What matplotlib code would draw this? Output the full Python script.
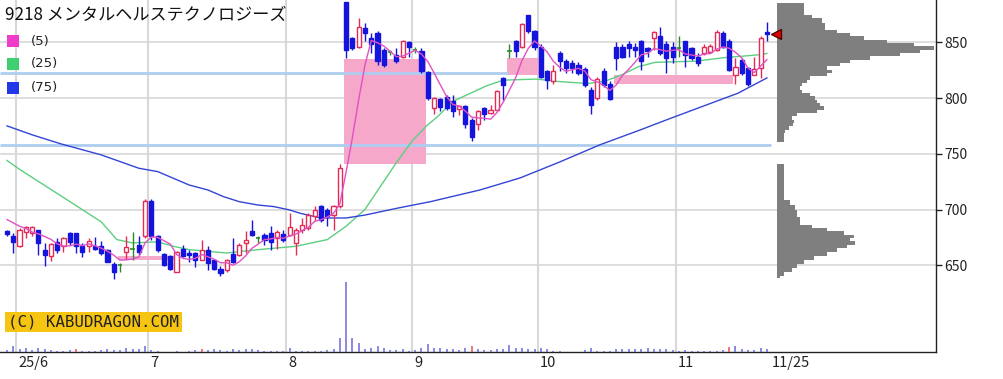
import matplotlib
matplotlib.use("Agg")
import matplotlib.pyplot as plt
from matplotlib.patches import Rectangle
import numpy as np
import pandas as pd

plt.rcParams['font.family'] = ['Noto Sans CJK JP', 'DejaVu Sans']

title = "9218 メンタルヘルステクノロジーズ"

# 日足 (5/29 .. 11/25)
opens = [681, 676, 667, 680, 679, 682, 664, 658, 671, 667, 679, 679, 667, 667, 667, 667, 664, 651, 650, 662,
         665, 668, 676, 708, 676, 660, 658, 644, 665, 661, 661, 655, 664, 655, 647, 646, 660, 659, 670, 681,
         674, 677, 679, 674, 678, 677, 670, 682, 683, 694, 703, 700, 695, 703, 886, 854, 846, 863, 854, 858,
         843, 841, 839, 837, 850, 843, 842, 823, 791, 799, 801, 797, 790, 793, 780, 777, 791, 787, 789, 818,
         842, 851, 846, 874, 860, 846, 824, 815, 840, 833, 831, 830, 826, 807, 800, 824, 813, 846, 846, 848,
         846, 851, 845, 854, 856, 848, 846, 845, 851, 845, 837, 840, 841, 843, 858, 851, 821, 834, 827, 821,
         827, 859]
highs = [682, 679, 683, 685, 685, 682, 670, 670, 674, 675, 680, 679, 670, 674, 675, 672, 665, 653, 652, 676,
         680, 676, 709, 709, 677, 661, 659, 663, 668, 664, 662, 673, 667, 656, 649, 656, 674, 670, 681, 691,
         676, 679, 685, 682, 682, 697, 683, 692, 697, 703, 704, 701, 704, 741, 886, 855, 872, 867, 858, 860,
         845, 843, 845, 852, 851, 846, 845, 824, 801, 800, 803, 803, 794, 794, 782, 789, 792, 794, 807, 819,
         848, 852, 867, 874, 861, 848, 825, 830, 842, 835, 834, 832, 828, 810, 819, 827, 815, 850, 848, 851,
         849, 852, 846, 860, 864, 851, 850, 856, 851, 846, 840, 848, 848, 861, 860, 853, 836, 836, 828, 837,
         856, 868]
lows = [676, 661, 666, 674, 676, 659, 649, 654, 661, 662, 668, 661, 657, 662, 664, 659, 653, 638, 644, 656,
        655, 659, 674, 673, 662, 649, 646, 644, 657, 653, 648, 655, 646, 646, 640, 644, 652, 658, 661, 676,
        670, 668, 664, 665, 671, 676, 659, 679, 682, 691, 689, 685, 682, 701, 836, 843, 845, 851, 840, 830,
        828, 839, 831, 836, 837, 840, 822, 798, 786, 788, 789, 783, 785, 773, 761, 771, 780, 786, 788, 798,
        836, 837, 845, 858, 843, 818, 808, 813, 824, 822, 822, 821, 810, 786, 798, 810, 798, 825, 836, 837,
        837, 825, 837, 843, 839, 822, 831, 837, 828, 834, 829, 839, 840, 842, 845, 824, 813, 821, 811, 821,
        818, 851]
closes = [678, 671, 682, 684, 684, 670, 659, 669, 664, 674, 671, 667, 662, 672, 665, 661, 653, 644, 650, 666,
          665, 662, 708, 676, 664, 650, 647, 662, 658, 659, 655, 664, 652, 647, 643, 655, 653, 668, 673, 677,
          674, 673, 671, 680, 673, 684, 682, 686, 695, 700, 691, 694, 703, 737, 843, 845, 864, 858, 848, 833,
          830, 841, 833, 851, 846, 843, 824, 800, 800, 792, 791, 788, 793, 777, 765, 788, 786, 789, 806, 812,
          842, 842, 866, 860, 846, 819, 816, 824, 833, 827, 827, 822, 812, 794, 817, 812, 799, 836, 837, 845,
          843, 833, 842, 859, 840, 836, 837, 845, 839, 836, 831, 846, 847, 859, 846, 825, 828, 822, 813, 826,
          854, 857]
volume = [17, 57, 27, 40, 17, 43, 30, 17, 13, 7, 17, 30, 13, 13, 7, 17, 27, 17, 17, 43,
          33, 30, 60, 17, 10, 3, 3, 13, 3, 13, 17, 30, 17, 30, 17, 10, 30, 17, 30, 30,
          17, 13, 13, 13, 13, 43, 13, 7, 10, 7, 13, 23, 33, 137, 700, 140, 90, 30, 40, 60,
          43, 17, 17, 30, 13, 17, 40, 77, 43, 40, 30, 30, 17, 43, 60, 30, 17, 17, 30, 27,
          73, 43, 40, 33, 30, 40, 27, 13, 10, 3, 3, 3, 17, 40, 13, 7, 13, 27, 30, 27,
          27, 30, 43, 30, 27, 30, 17, 13, 17, 13, 7, 13, 13, 13, 17, 50, 60, 30, 23, 17,
          43, 33]
vol_red = [11, 31, 74, 115]

# 移動平均 (チャートから読み取り)
ma5_head = [691, 688, 685, 683]
ma25_x = [0, 2, 7, 15, 17.5, 20, 24, 26.5, 29, 35, 40, 46, 51, 54, 57, 59.5, 62, 64.6, 67, 68.5, 71,
          73.7, 76.4, 79, 84.4, 87.3, 92.5, 95.2, 98, 100.5, 103.2, 109.6, 113.9, 120.2, 121]
ma25 = [744, 736, 718, 689, 673, 670, 671, 667, 664, 661, 664, 667, 673, 685, 700, 721, 742, 762, 776, 783, 797,
        804, 811, 816, 817, 815, 813, 815, 821, 828, 832, 833, 836, 839, 840]
ma75_x = [0, 4, 8.5, 15, 21, 24, 26.5, 29, 32, 34.5, 37, 40, 42.5, 45, 46.7, 50, 54, 57, 62, 67.4,
          75.3, 81.7, 88, 94.4, 100.8, 105.3, 111, 116.4, 121]
ma75 = [775, 767, 759, 749, 737, 734, 728, 722, 717.5, 711.5, 707, 704, 702.6, 699.6, 696.6, 692.4, 692.4, 695,
        701, 707, 717.5, 728.3, 742.6, 758, 771.3, 781, 793, 804.3, 818]

# 窓 (開始, 終了, 下限, 上限)
gaps = [(18, 27, 655, 658), (54, 67, 741, 835), (80, 85, 821, 836), (97, 116, 813, 821)]
hlines = [(822, 80), (758, 122)]

month_starts = [2, 23, 45, 65, 85, 107]
month_labels = ['25/6', '7', '8', '9', '10', '11']
last_label = '11/25'

# 価格帯別出来高
prof_hi_edges = [885.5, 874.5, 871.5, 867.3, 861, 858.3, 855.7, 852, 849.4, 846.7, 843.1, 840.4, 837.7, 834.1,
                 831.4, 828.7, 825.2, 822.5, 819.8, 816.2, 813.5, 810.8, 807.2, 804.5, 801.8, 798.3, 795.6,
                 792.9, 789.3, 786.6, 783.9, 780.3, 777.6, 774.9, 771.3, 768.7, 765.1, 760.9]
prof_hi_vol = [26.7, 35, 45, 48, 60, 73, 86.7, 110, 136.7, 156.7, 143, 123, 93, 73, 63, 50, 55, 50, 33, 30,
               25, 23, 25, 33, 38, 40, 43, 46.7, 40, 20, 15, 16.7, 16, 11.7, 8.3, 6.7, 6.7]
prof_lo_edges = [740.9, 708.6, 704.1, 699.6, 693.3, 686.1, 683.5, 680.8, 677.2, 674.5, 671.8, 668.2, 665.5,
                 661.9, 658.3, 654.7, 651.1, 647.5, 643.9, 640.4, 638.3]
prof_lo_vol = [7.3, 13, 18, 20, 23, 35, 50, 66.7, 76.7, 73, 78, 70, 60, 50, 37, 26.7, 20, 15, 6.7, 3.3]

W, H = 1004, 379
fig = plt.figure(figsize=(W / 100, H / 100), dpi=100)
fig.patch.set_facecolor('white')
pos = [0, 27 / H, 936 / W, 352 / H]
ax = fig.add_axes(pos)
ax.set_xlim(-1.11, 147.93)
ax.set_ylim(572.2, 887.9)
for s in ['left', 'top']:
    ax.spines[s].set_visible(False)
for s in ['right', 'bottom']:
    ax.spines[s].set_color('#222222')
    ax.spines[s].set_linewidth(1.0)

yt = [650, 700, 750, 800, 850]
ax.yaxis.tick_right()
ax.set_yticks(yt)
ax.tick_params(axis='y', length=4, width=1, labelsize=10, pad=2, colors='#222222')
for v in yt:
    ax.axhline(v, color='#d8d8d8', lw=1.2, zorder=0)
for m in month_starts:
    ax.axvline(m - 0.5, color='#d8d8d8', lw=1.5, zorder=0)

ax.set_xticks([m - 0.2 for m in month_starts] + [121.8], month_labels + [last_label])
ax.tick_params(axis='x', length=0, labelsize=10.5, pad=3, colors='#222222')
for lab in ax.get_xticklabels():
    lab.set_ha('left')

# 窓
for s, e, lo, hi in gaps:
    ax.add_patch(Rectangle((s - 0.35, lo), e - s, hi - lo, facecolor='#f6a8ca', edgecolor='none', zorder=1))
for p, e in hlines:
    ax.hlines(p, -1.11, e - 0.3, color='#aecdf0', lw=2, zorder=1)

x = np.arange(len(closes))
o = np.array(opens); h = np.array(highs); l = np.array(lows); c = np.array(closes)
up = c > o
dn = c < o
dj = c == o
red, blue, green = '#e42a55', '#1414dc', '#2a8a2a'

ax.vlines(x[up], l[up], h[up], color=red, lw=1, zorder=3)
ax.vlines(x[dn], l[dn], h[dn], color=blue, lw=1, zorder=3)
ax.vlines(x[dj], l[dj], h[dj], color=green, lw=1, zorder=3)
ax.bar(x[up], (c - o)[up], bottom=o[up], width=0.66, facecolor='white', edgecolor=red, lw=1, zorder=4)
ax.bar(x[dn], (o - c)[dn], bottom=c[dn], width=0.66, facecolor=blue, edgecolor=blue, lw=1, zorder=4)
ax.hlines(o[dj], x[dj] - 0.35, x[dj] + 0.35, color=green, lw=1.2, zorder=4)

# 移動平均線
ma5 = pd.Series(closes).rolling(5).mean().values
ma5[:4] = ma5_head
ax.plot(x, ma5, color='#e052c4', lw=1, zorder=5)
ax.plot(ma25_x, ma25, color='#5ccf80', lw=1, zorder=2)
ax.plot(ma75_x, ma75, color='#3345d6', lw=1, zorder=2)

# 出来高
axv = fig.add_axes(pos, sharex=ax)
axv.set_ylim(0, 3500)
axv.axis('off')
axv.patch.set_alpha(0)
vcol = ['#e05060' if i in vol_red else '#6a6ad8' for i in range(len(volume))]
axv.vlines(x, 0, volume, colors=vcol, lw=1.1)

# 価格帯別出来高
axp = fig.add_axes([777 / W, 27 / H, 159 / W, 352 / H])
axp.set_ylim(572.2, 887.9)
axp.set_xlim(0, 159)
axp.axis('off')
axp.patch.set_alpha(0)
for edges, vols in [(prof_hi_edges, prof_hi_vol), (prof_lo_edges, prof_lo_vol)]:
    tops = np.array(edges[:-1]); bots = np.array(edges[1:])
    axp.barh(bots, vols, height=tops - bots, align='edge', left=0, color='#7f7f7f', edgecolor='none')

# 現在値マーカー (メイン軸の座標で、価格帯別出来高の上に描く)
axp.plot(len(closes) + 0.45, closes[-1], marker='<', ms=7, mfc='#e00000', mec='#550000', mew=1,
         transform=ax.transData, clip_on=False, zorder=6)

# タイトル・凡例
fig.text(5 / W, 1 - 15 / H, title, fontsize=12.3, va='center', ha='left', color='#111111')
leg = [('(5)', '#f03cc8', 41), ('(25)', '#3ed070', 64), ('(75)', '#2238e6', 88)]
for txt, col, yc in leg:
    fig.patches.append(Rectangle((7 / W, 1 - (yc + 6) / H), 12 / W, 12 / H, facecolor=col,
                                 edgecolor='none', transform=fig.transFigure, figure=fig))
    fig.text(31 / W, 1 - yc / H, txt, fontsize=9.5, va='center', ha='left', color='#222222',
             family='DejaVu Sans')

fig.text(8 / W, 1 - 322 / H, '(C) KABUDRAGON.COM', fontsize=11.3, va='center', ha='left',
         family='DejaVu Sans Mono', color='#222222',
         bbox=dict(facecolor='#f6c512', edgecolor='none', pad=2.2))

fig.savefig('out.png', dpi=100)
